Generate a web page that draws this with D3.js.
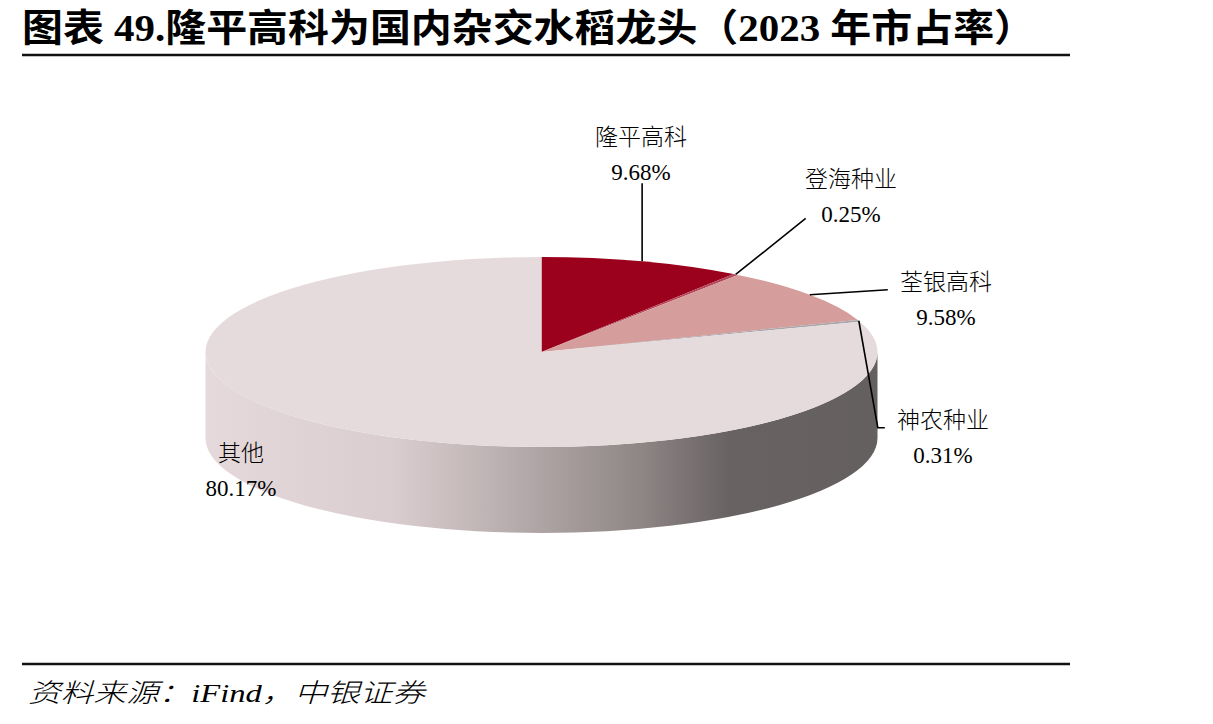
<!DOCTYPE html>
<html>
<head>
<meta charset="utf-8">
<script src="https://cdn.jsdelivr.net/npm/d3@7"></script>
<style>
  html, body { margin: 0; padding: 0; background: #fff; }
</style>
</head>
<body>
<div id="chart"></div>
<script>
// data
const names = ["隆平高科", "登海种业", "荃银高科", "神农种业", "其他"];
const shares = [9.68, 0.25, 9.58, 0.31, 80.17];
const sliceColors = ["#9B001C", "#B4465A", "#D59D9B", "#A9A6AB", "#E6DBDC"];

// label layout: leader elbow points (relative to slice edge) and text anchor
const leaderEnds = [[[0, -78]], [[70, -56]], [[78, -5]], [[19, 107], [26, 107]], null];
const labelPos = [[641, 145], [851, 187], [946, 290], [943, 428], [241, 461]];

const width = 1213, height = 724;
const cx = 541.5, cy = 352, rx = 336, ry = 95, depth = 86;

const svg = d3.select("#chart").append("svg")
    .attr("width", width)
    .attr("height", height)
    .attr("font-family", "'Liberation Serif', 'Noto Sans CJK SC', serif");

// title
svg.append("text")
    .attr("x", 22).attr("y", 41)
    .attr("font-size", 38)
    .attr("font-weight", "bold")
    .attr("textLength", 1013)
    .attr("lengthAdjust", "spacingAndGlyphs")
    .text("图表 49.隆平高科为国内杂交水稻龙头（2023 年市占率）");

svg.append("line")
    .attr("x1", 22).attr("x2", 1070).attr("y1", 55).attr("y2", 55)
    .attr("stroke", "#111").attr("stroke-width", 2.5);

svg.append("line")
    .attr("x1", 22).attr("x2", 1070).attr("y1", 664).attr("y2", 664)
    .attr("stroke", "#111").attr("stroke-width", 2.5);

svg.append("text")
    .attr("x", 28).attr("y", 702)
    .attr("font-size", 26)
    .attr("font-style", "italic")
    .attr("font-weight", 300)
    .attr("textLength", 397)
    .attr("lengthAdjust", "spacingAndGlyphs")
    .text("资料来源：iFind，中银证券");

// side gradient
const defs = svg.append("defs");
const grad = defs.append("linearGradient")
    .attr("id", "side")
    .attr("gradientUnits", "userSpaceOnUse")
    .attr("x1", cx - rx).attr("x2", cx + rx).attr("y1", 0).attr("y2", 0);
[[0, "#E5D9DB"], [0.28, "#DACDCF"], [0.45, "#B9AEAF"], [0.65, "#8E8585"], [0.78, "#686262"], [1, "#656060"]]
  .forEach(([o, c]) => grad.append("stop").attr("offset", o).attr("stop-color", c));

const pie = d3.pie().sort(null).value(d => d);
const arcs = pie(shares);

const pt = (a, dy = 0) => [cx + rx * Math.sin(a), cy - ry * Math.cos(a) + dy];

function topPath(d) {
  const p0 = pt(d.startAngle), p1 = pt(d.endAngle);
  const large = d.endAngle - d.startAngle > Math.PI ? 1 : 0;
  return `M${cx},${cy}L${p0}A${rx},${ry} 0 ${large} 1 ${p1}Z`;
}

function sidePath(d) {
  const s = Math.max(d.startAngle, Math.PI / 2), e = Math.min(d.endAngle, 3 * Math.PI / 2);
  if (e <= s) return null;
  const t0 = pt(s), t1 = pt(e), b0 = pt(s, depth), b1 = pt(e, depth);
  return `M${t0}A${rx},${ry} 0 0 1 ${t1}L${b1}A${rx},${ry} 0 0 0 ${b0}Z`;
}

const g = svg.append("g");

g.selectAll("path.side")
  .data(arcs.filter(d => sidePath(d)))
  .join("path")
    .attr("class", "side")
    .attr("d", sidePath)
    .attr("fill", (d, i) => d.index === 4 ? "url(#side)" : d3.color(sliceColors[d.index]).darker(0.8));

g.selectAll("path.top")
  .data(arcs)
  .join("path")
    .attr("class", "top")
    .attr("d", topPath)
    .attr("fill", d => sliceColors[d.index]);

// leader lines
const lines = svg.append("g")
    .attr("fill", "none")
    .attr("stroke", "#000")
    .attr("stroke-width", 1.6);

arcs.forEach(d => {
  const ends = leaderEnds[d.index];
  if (!ends) return;
  const start = pt((d.startAngle + d.endAngle) / 2);
  const pts = [start].concat(ends.map(([dx, dy]) => [start[0] + dx, start[1] + dy]));
  lines.append("path").attr("d", d3.line()(pts));
});

// labels
const labels = svg.append("g")
    .attr("font-size", 23)
    .attr("font-weight", 300)
    .attr("text-anchor", "middle")
    .attr("fill", "#000");

arcs.forEach(d => {
  const [x, y] = labelPos[d.index];
  labels.append("text").attr("x", x).attr("y", y).text(names[d.index]);
  labels.append("text").attr("x", x).attr("y", y + 35).text(shares[d.index].toFixed(2) + "%");
});
</script>
</body>
</html>
